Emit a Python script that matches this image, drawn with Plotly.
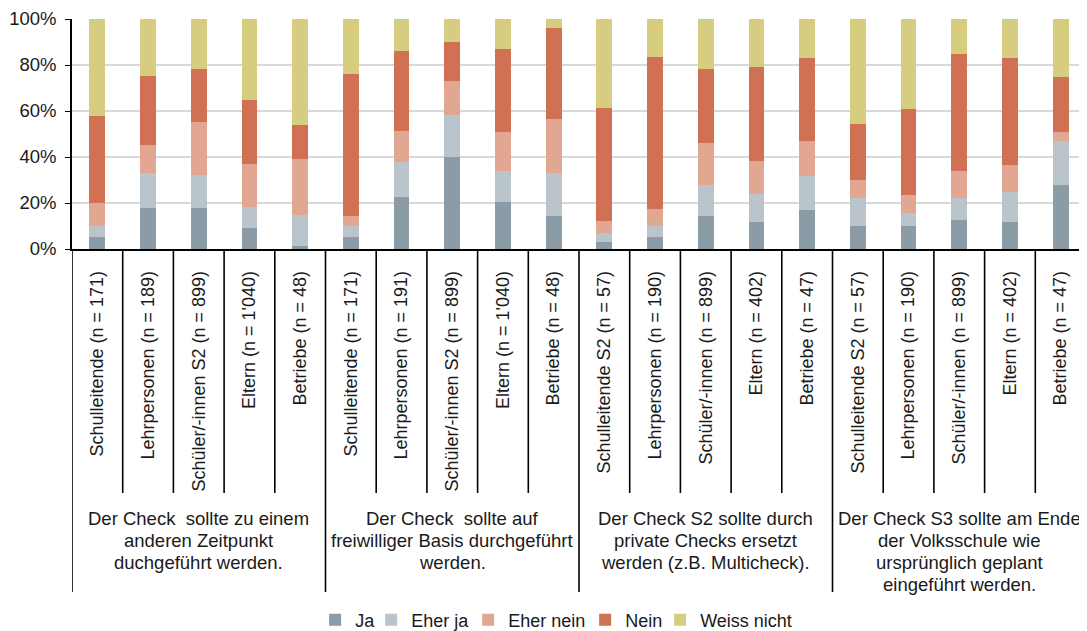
import plotly.graph_objects as go

# bar labels, left to right
categories = [
    "Schulleitende (n = 171)", "Lehrpersonen (n = 189)", "Schüler/-innen S2 (n = 899)",
    "Eltern (n = 1'040)", "Betriebe (n = 48)",
    "Schulleitende (n = 171)", "Lehrpersonen (n = 191)", "Schüler/-innen S2 (n = 899)",
    "Eltern (n = 1'040)", "Betriebe (n = 48)",
    "Schulleitende S2 (n = 57)", "Lehrpersonen (n = 190)", "Schüler/-innen (n = 899)",
    "Eltern (n = 402)", "Betriebe (n = 47)",
    "Schulleitende S2 (n = 57)", "Lehrpersonen (n = 190)", "Schüler/-innen (n = 899)",
    "Eltern (n = 402)", "Betriebe (n = 47)",
]

# one list of text lines per group of five bars
group_labels = [
    ["Der Check  sollte zu einem", "anderen Zeitpunkt", "duchgeführt werden."],
    ["Der Check  sollte auf", "freiwilliger Basis durchgeführt", "werden."],
    ["Der Check S2 sollte durch", "private Checks ersetzt", "werden (z.B. Multicheck)."],
    ["Der Check S3 sollte am Ende", "der Volksschule wie", "ursprünglich geplant",
     "eingeführt werden."],
]
group_size = 5

# shares in percent
ja = [5.4, 17.7, 17.7, 9.3, 1.4,
      5.4, 22.8, 39.9, 20.6, 14.5,
      2.9, 5.4, 14.5, 11.6, 16.8,
      9.9, 9.9, 12.5, 11.6, 27.7]
eher_ja = [4.5, 15.5, 14.6, 9.1, 13.2,
           4.6, 14.9, 18.5, 13.3, 18.7,
           4.1, 4.6, 13.3, 12.5, 14.8,
           12.4, 5.6, 9.7, 13.0, 19.3]
eher_nein = [10.2, 12.2, 23.1, 18.6, 24.7,
             4.5, 13.7, 14.8, 17.0, 23.2,
             5.3, 7.5, 18.4, 14.3, 15.5,
             7.8, 7.8, 11.6, 11.8, 4.0]
nein = [37.6, 30.0, 23.0, 27.6, 14.5,
        61.4, 34.5, 16.7, 35.9, 39.5,
        49.1, 66.1, 32.2, 40.6, 35.8,
        24.4, 37.4, 50.8, 46.5, 23.6]
weiss_nicht = [42.3, 24.6, 21.6, 35.4, 46.2,
               24.1, 14.1, 10.1, 13.2, 4.1,
               38.6, 16.4, 21.6, 21.0, 17.1,
               45.5, 39.3, 15.4, 17.1, 25.4]

series = [
    ("Ja", ja, "#8B9CA6"),
    ("Eher ja", eher_ja, "#B9C5CB"),
    ("Eher nein", eher_nein, "#E2A793"),
    ("Nein", nein, "#CF7152"),
    ("Weiss nicht", weiss_nicht, "#D7CD80"),
]

# legend entry widths (px) so the entries sit closer together than plotly's default
legend_widths = {"Ja": 11, "Eher ja": 52, "Eher nein": 72, "Nein": 30, "Weiss nicht": 92}

FONT = "Liberation Sans, Arial, sans-serif"
TEXT = "#1a1a1a"
PLOT_H = 230  # px, used to turn pixel offsets below the axis into paper units
# the page body adds an 8px margin, so the figure is made that much smaller
FIG_W, FIG_H = 1079, 623

x_pos = list(range(len(categories)))

fig = go.Figure()
for name, values, color in series:
    fig.add_trace(
        go.Bar(
            x=x_pos,
            y=[v / 100 for v in values],
            name=name,
            marker=dict(color=color, line=dict(width=0)),
            width=0.31,
            legendwidth=legend_widths[name],
        )
    )

# divider lines below the axis
shapes = []
for i in range(len(categories) + 1):
    is_group_edge = i % group_size == 0
    shapes.append(
        dict(
            type="line",
            xref="x",
            yref="paper",
            x0=i - 0.5,
            x1=i - 0.5,
            y0=0,
            y1=-(343 if is_group_edge else 244) / PLOT_H,
            line=dict(color="black", width=1.6),
        )
    )

annotations = []
line_step = 22
for g, lines in enumerate(group_labels):
    center = g * group_size + (group_size - 1) / 2
    for k, line in enumerate(lines):
        annotations.append(
            dict(
                x=center,
                xref="x",
                y=-(269 + k * line_step) / PLOT_H,
                yref="paper",
                text=line,
                showarrow=False,
                xanchor="center",
                yanchor="middle",
                font=dict(size=18.5, color=TEXT, family=FONT),
            )
        )

fig.update_layout(
    width=FIG_W,
    height=FIG_H,
    plot_bgcolor="white",
    paper_bgcolor="white",
    barmode="stack",
    margin=dict(l=64, r=1, t=11, b=382, autoexpand=False),
    font=dict(family=FONT, size=18, color=TEXT),
    showlegend=True,
    legend=dict(
        orientation="h",
        x=0.508,
        xanchor="center",
        xref="container",
        y=1 - 612 / FIG_H,
        yref="container",
        yanchor="middle",
        font=dict(size=18),
        itemwidth=30,
        traceorder="normal",
    ),
    shapes=shapes,
    annotations=annotations,
)

fig.update_xaxes(
    tickmode="array",
    tickvals=x_pos,
    ticktext=categories,
    tickangle=-90,
    range=[-0.5, len(categories) - 0.5],
    showline=True,
    linecolor="black",
    linewidth=1.5,
    ticks="",
    ticklabelstandoff=13,
    showgrid=False,
    automargin=False,
    tickfont=dict(size=18),
)
fig.update_yaxes(
    range=[0, 1],
    tickvals=[0, 0.2, 0.4, 0.6, 0.8, 1.0],
    tickformat=".0%",
    showline=True,
    linecolor="black",
    linewidth=1.5,
    ticks="outside",
    ticklen=5,
    tickcolor="black",
    ticklabelstandoff=5,
    showgrid=True,
    gridcolor="#D9D9D9",
    gridwidth=1.5,
    zeroline=False,
    automargin=False,
    tickfont=dict(size=18.5),
)

fig.write_html("out.html")
